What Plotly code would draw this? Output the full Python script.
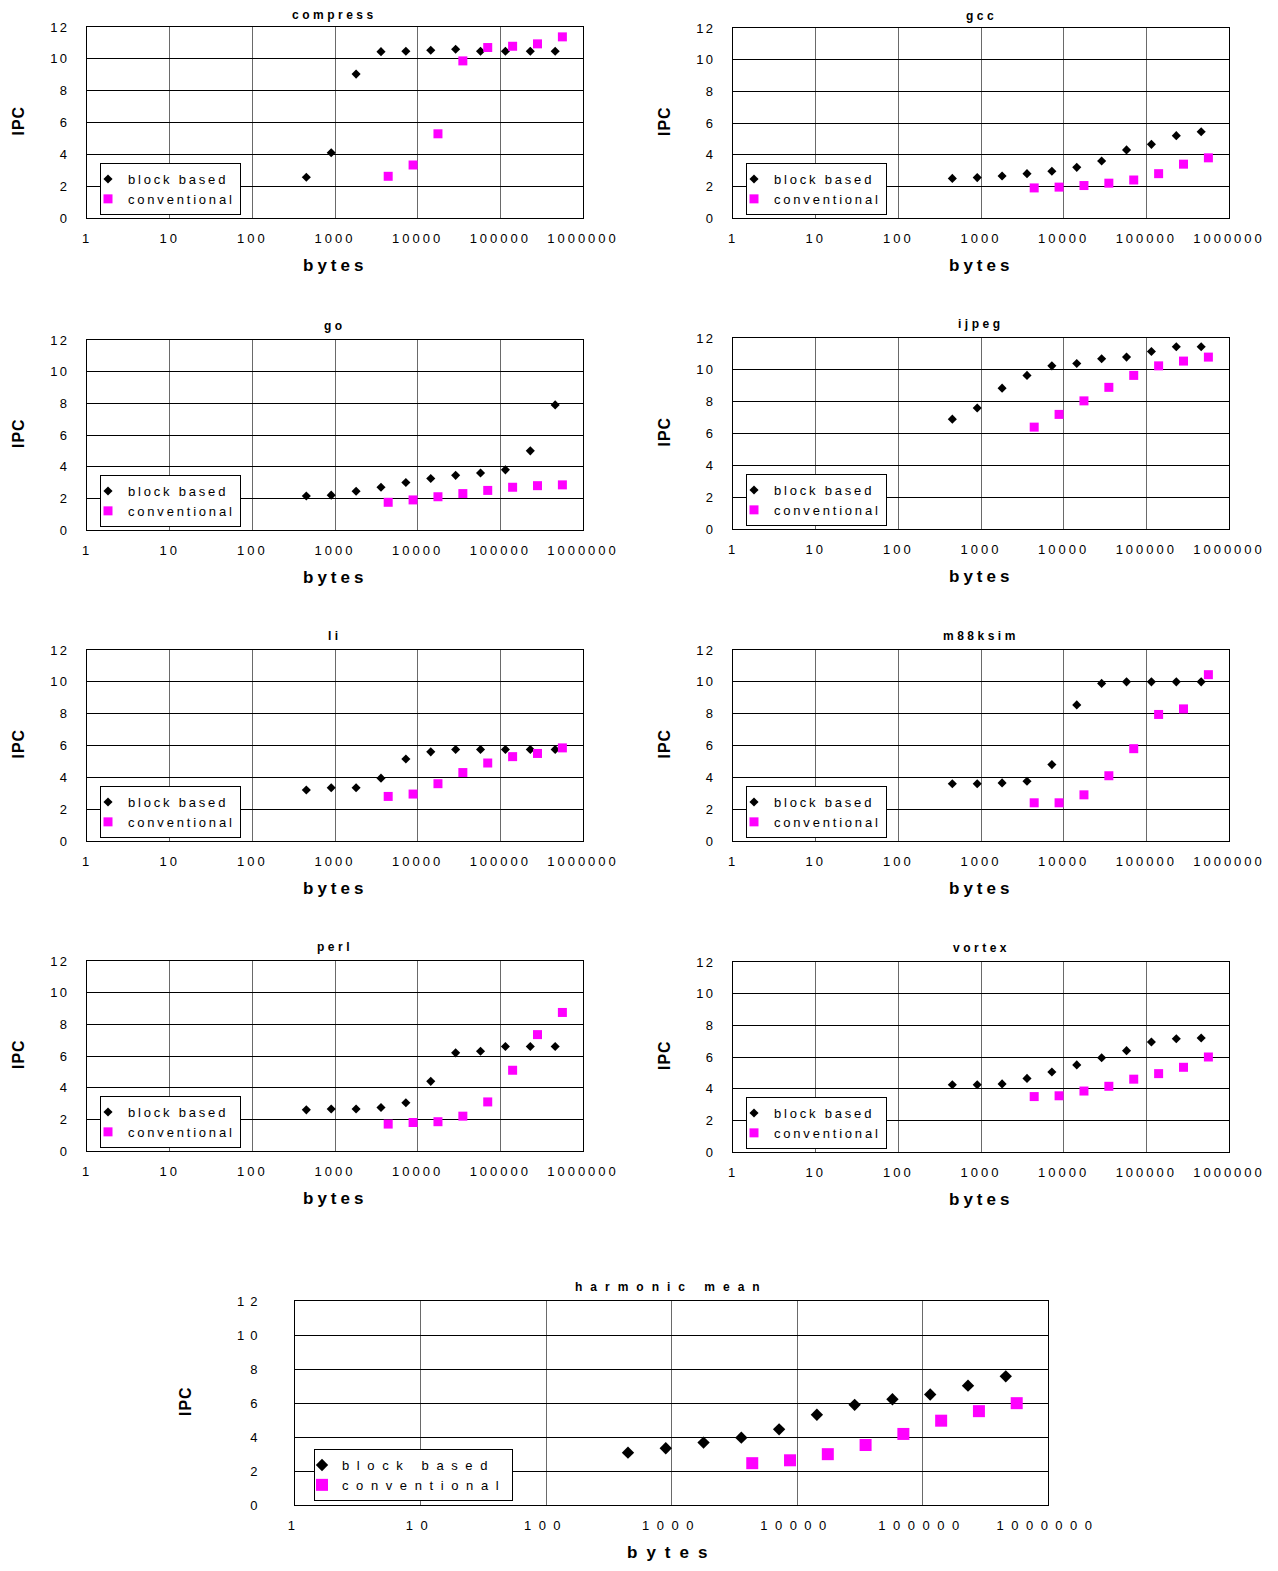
import plotly.graph_objects as go

# page body has an 8px default margin; the figure is placed inside it
OFF = 8
W, H = 1278 - OFF, 1571 - OFF

# ---------------- data ----------------
block_x = [450, 900, 1800, 3600, 7200, 14400, 28800, 57600, 115200, 230400, 460800]
conv_x = [4400, 8800, 17600, 35200, 70400, 140800, 281600, 563200]

x_tick_vals = [1, 10, 100, 1000, 10000, 100000, 1000000]
x_tick_labels = ["1", "10", "100", "1000", "10000", "100000", "1000000"]
y_tick_vals = [0, 2, 4, 6, 8, 10, 12]
y_tick_labels = ["0", "2", "4", "6", "8", "10", "12"]

series_names = ["block based", "conventional"]

compress_block = [2.56, 4.1, 9.04, 10.45, 10.48, 10.54, 10.6, 10.48, 10.48, 10.48, 10.48]
compress_conv = [2.62, 3.33, 5.29, 9.87, 10.71, 10.79, 10.94, 11.38]

gcc_block = [2.5, 2.55, 2.65, 2.8, 2.95, 3.2, 3.6, 4.3, 4.65, 5.2, 5.45]
gcc_conv = [1.9, 1.95, 2.05, 2.2, 2.4, 2.8, 3.4, 3.8]

go_block = [2.15, 2.2, 2.45, 2.7, 3.0, 3.25, 3.45, 3.6, 3.8, 5.0, 7.9]
go_conv = [1.75, 1.9, 2.1, 2.3, 2.5, 2.7, 2.8, 2.85]

ijpeg_block = [6.9, 7.6, 8.85, 9.65, 10.25, 10.4, 10.7, 10.8, 11.15, 11.45, 11.45]
ijpeg_conv = [6.4, 7.2, 8.05, 8.9, 9.65, 10.25, 10.55, 10.8]

li_block = [3.2, 3.35, 3.35, 3.95, 5.15, 5.6, 5.75, 5.75, 5.75, 5.75, 5.75]
li_conv = [2.8, 2.95, 3.6, 4.3, 4.9, 5.3, 5.5, 5.85]

m88ksim_block = [3.6, 3.6, 3.65, 3.75, 4.8, 8.55, 9.9, 10.0, 10.0, 10.0, 10.0]
m88ksim_conv = [2.4, 2.4, 2.9, 4.1, 5.8, 7.95, 8.3, 10.45]

perl_block = [2.6, 2.65, 2.65, 2.75, 3.05, 4.4, 6.2, 6.3, 6.6, 6.6, 6.6]
perl_conv = [1.7, 1.8, 1.85, 2.2, 3.1, 5.1, 7.35, 8.75]

vortex_block = [4.25, 4.25, 4.3, 4.65, 5.05, 5.5, 5.95, 6.4, 6.95, 7.15, 7.2]
vortex_conv = [3.5, 3.55, 3.85, 4.15, 4.6, 4.95, 5.35, 6.0]

hmean_block = [3.08, 3.34, 3.67, 3.96, 4.45, 5.31, 5.89, 6.22, 6.5, 7.02, 7.57]
hmean_conv = [2.46, 2.63, 2.99, 3.53, 4.18, 4.96, 5.52, 5.99]

titles = ["compress", "gcc", "go", "ijpeg", "li", "m88ksim", "perl", "vortex", "harmonic mean"]
block_series = [compress_block, gcc_block, go_block, ijpeg_block, li_block,
                m88ksim_block, perl_block, vortex_block, hmean_block]
conv_series = [compress_conv, gcc_conv, go_conv, ijpeg_conv, li_conv,
               m88ksim_conv, perl_conv, vortex_conv, hmean_conv]

# ---------------- layout (page pixel boxes: left, right, top, bottom) ----------------
boxes = [
    (87, 583, 27, 218), (733, 1229, 28, 218),
    (87, 583, 340, 530), (733, 1229, 338, 529),
    (87, 583, 650, 841), (733, 1229, 650, 841),
    (87, 583, 961, 1151), (733, 1229, 962, 1152),
    (295, 1048, 1301, 1505),
]

FONT = "Liberation Sans, Arial, sans-serif"
BLACK = "#000000"
MAGENTA = "#FF00FF"


def fx(p):
    return (p - OFF) / W


def fy(p):
    return 1 - (p - OFF) / H


def sp(text, ls):
    return "<span style='letter-spacing:%spx'>%s</span>" % (ls, text)


fig = go.Figure()
layout = dict(
    template="none",
    width=W, height=H, autosize=False,
    margin=dict(l=0, r=0, t=0, b=0, pad=0),
    paper_bgcolor="white", plot_bgcolor="white",
    font=dict(family=FONT, color="black"),
    annotations=[],
)

for i, (title, yb, yc, box) in enumerate(zip(titles, block_series, conv_series, boxes), start=1):
    sfx = "" if i == 1 else str(i)
    L, R, T, B = box
    big = (i == 9)
    ls_tick = 7.5 if big else 3
    ls_leg = 7.6 if big else 2.8
    ls_title = 8 if big else 3.5
    ls_bytes = 9 if big else 4
    dsize = 9.5 if big else 7
    ssize = 12 if big else 9

    fig.add_trace(go.Scatter(
        x=block_x, y=yb, mode="markers", name=sp(series_names[0], ls_leg),
        marker=dict(symbol="diamond", size=dsize, color=BLACK, line=dict(width=0)),
        xaxis="x" + sfx, yaxis="y" + sfx, legend="legend" + sfx,
        hoverinfo="x+y"))
    fig.add_trace(go.Scatter(
        x=conv_x, y=yc, mode="markers", name=sp(series_names[1], ls_leg),
        marker=dict(symbol="square", size=ssize, color=MAGENTA, line=dict(width=0)),
        xaxis="x" + sfx, yaxis="y" + sfx, legend="legend" + sfx,
        hoverinfo="x+y"))

    layout["xaxis" + sfx] = dict(
        type="log", range=[0, 6], domain=[fx(L), fx(R)], anchor="y" + sfx,
        tickvals=x_tick_vals, ticktext=[sp(t, ls_tick) for t in x_tick_labels],
        tickfont=dict(family=FONT, size=13, color="black"),
        ticks="", ticklabelstandoff=8, automargin=False,
        showgrid=True, gridcolor="#6a6a6a", gridwidth=1,
        showline=True, linecolor="black", linewidth=1, mirror=True,
        zeroline=False, fixedrange=True,
    )
    layout["yaxis" + sfx] = dict(
        range=[0, 12], domain=[fy(B), fy(T)], anchor="x" + sfx,
        tickvals=y_tick_vals, ticktext=[sp(t, ls_tick * 0.8) for t in y_tick_labels],
        tickfont=dict(family=FONT, size=13, color="black"),
        ticks="", ticklabelstandoff=(28 if big else 14), automargin=False,
        showgrid=True, gridcolor="black", gridwidth=1,
        showline=True, linecolor="black", linewidth=1, mirror=True,
        zeroline=False, fixedrange=True,
    )
    if big:
        lx, ly = 314, 1449
    else:
        lx, ly = L + 13, B - 55
    layout["legend" + sfx] = dict(
        x=fx(lx), y=fy(ly), xanchor="left", yanchor="top",
        bgcolor="white", bordercolor="black", borderwidth=1,
        font=dict(family=FONT, size=13, color="black"),
        itemwidth=30, tracegroupgap=0, traceorder="normal",
        indentation=-13,
    )
    cx = (L + R) / 2
    title_y = T - 12 if T < 100 else T - 14
    layout["annotations"] += [
        dict(text="<b>" + sp(title, ls_title) + "</b>", x=fx(cx), y=fy(title_y),
             xref="paper", yref="paper", showarrow=False,
             font=dict(family=FONT, size=12, color="black"), xanchor="center", yanchor="middle"),
        dict(text="<b>" + sp("bytes", ls_bytes) + "</b>", x=fx(cx), y=fy(B + 47),
             xref="paper", yref="paper", showarrow=False,
             font=dict(family=FONT, size=17, color="black"), xanchor="center", yanchor="middle"),
        dict(text="<b>" + sp("IPC", 1) + "</b>", x=fx(L - (110 if big else 69)), y=fy((T + B) / 2 - 2),
             xref="paper", yref="paper", showarrow=False, textangle=-90,
             font=dict(family=FONT, size=16, color="black"), xanchor="center", yanchor="middle"),
    ]

fig.update_layout(**layout)
fig.update_layout(showlegend=True)
fig.write_html("out.html")
